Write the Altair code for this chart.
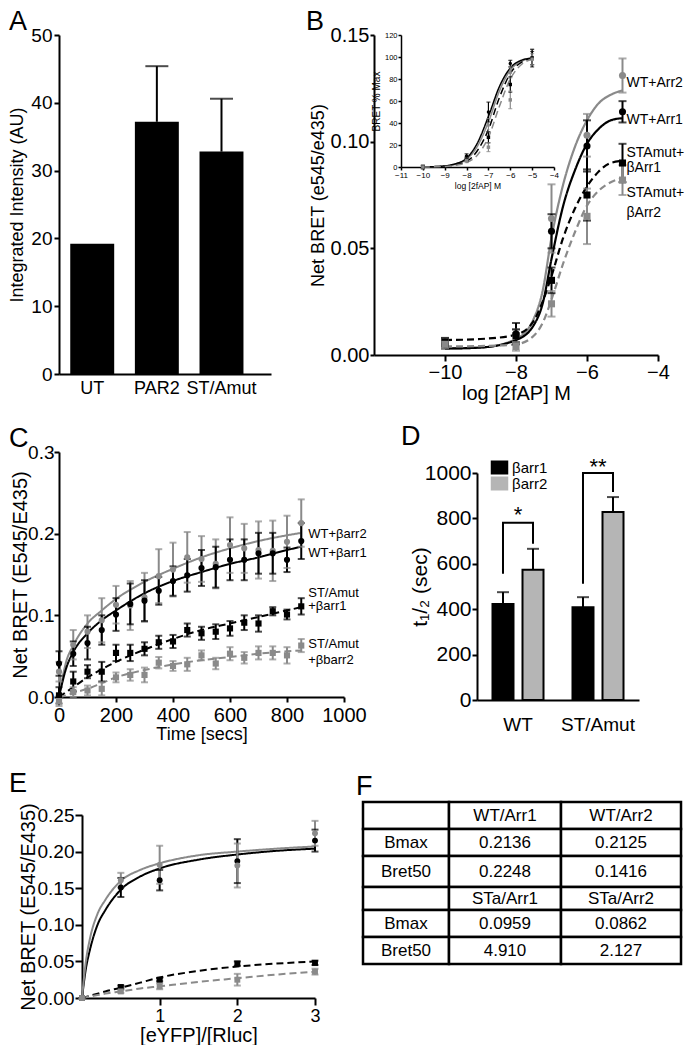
import altair as alt
import pandas as pd

FONT = "Liberation Sans"
BLK = "#000000"
GRY = "#8a8a8a"
BARG = "#b5b5b5"

# ================= DATA =================
# ---- Panel A
A_CATS = ["UT", "PAR2", "ST/Amut"]
A_VALS = [19.2, 37.2, 32.8]
A_ERR = [0.0, 8.2, 7.8]

# ---- Panel B (main)
B_NAMES = ["WT+Arr2", "WT+Arr1", "STAmut+βArr1", "STAmut+βArr2"]
B_X = [-10, -8, -7, -6, -5]
B_WT2 = [0.006, 0.009, 0.064, 0.103, 0.131]
B_WT2_ERR = [0.002, 0.003, 0.016, 0.010, 0.008]
B_WT1 = [0.005, 0.010, 0.058, 0.098, 0.114]
B_WT1_ERR = [0.002, 0.005, 0.008, 0.012, 0.005]
B_ST1 = [0.006, 0.009, 0.035, 0.075, 0.090]
B_ST1_ERR = [0.002, 0.003, 0.006, 0.012, 0.009]
B_ST2 = [0.005, 0.004, 0.024, 0.065, 0.082]
B_ST2_ERR = [0.002, 0.002, 0.006, 0.013, 0.007]
B_FX = [-10, -9, -8, -7.5, -7.25, -7, -6.67, -6.33, -6, -5.67, -5.33, -5]
B_WT2_FIT = [0.003, 0.0035, 0.0075, 0.017, 0.030, 0.055, 0.080, 0.098, 0.110, 0.118, 0.122, 0.124]
B_WT1_FIT = [0.003, 0.0035, 0.007, 0.014, 0.024, 0.045, 0.070, 0.087, 0.099, 0.106, 0.110, 0.111]
B_ST1_FIT = [0.007, 0.0075, 0.0095, 0.016, 0.025, 0.037, 0.055, 0.069, 0.079, 0.086, 0.090, 0.091]
B_ST2_FIT = [0.004, 0.0042, 0.005, 0.009, 0.015, 0.026, 0.043, 0.058, 0.070, 0.077, 0.081, 0.083]
B_LABELS = ["WT+Arr2", "WT+Arr1", "STAmut+", "βArr1", "STAmut+", "βArr2"]
B_LABEL_Y = [0.1276, 0.110, 0.0948, 0.0876, 0.0761, 0.0667]

# ---- Panel B (inset, % of max)
IN_NAMES = ["WT+Arr2", "WT+Arr1", "STAmut+βArr1", "STAmut+βArr2"]
IN_X = [-10, -8, -7, -6, -5]
IN_WT2 = [0, 8, 38, 86, 100]
IN_WT2_ERR = [1.5, 2, 6, 5, 7]
IN_WT1 = [0, 10, 50, 94, 99]
IN_WT1_ERR = [1.5, 2, 9, 3, 8]
IN_ST1 = [0, 7, 27, 75, 99]
IN_ST1_ERR = [1.5, 2, 5, 7, 6]
IN_ST2 = [0, 6, 18, 61, 98]
IN_ST2_ERR = [1.5, 2, 4, 8, 5]
IN_FX = [-10, -9, -8.5, -8, -7.5, -7, -6.5, -6, -5.5, -5]
IN_WT2_FIT = [0, 1, 2.5, 7, 19, 41, 69, 88, 96, 99]
IN_WT1_FIT = [0, 1, 3, 8, 22, 46, 73, 90, 97, 99]
IN_ST1_FIT = [0, 0.5, 2, 5, 15, 34, 63, 85, 95, 99]
IN_ST2_FIT = [0, 0.5, 1.5, 4, 11, 27, 55, 80, 93, 98]

# ---- Panel C (kinetics)
C_NAMES = ["WT+βarr2", "WT+βarr1", "ST/Amut+βarr1", "ST/Amut+βbarr2"]
C_T = [0, 50, 100, 150, 200, 250, 300, 350, 400, 450, 500, 550, 600, 650, 700, 750, 800, 850]
C_WT2 = [0.031, 0.064, 0.080, 0.094, 0.113, 0.112, 0.122, 0.148, 0.156, 0.171, 0.169, 0.163,
         0.186, 0.182, 0.180, 0.179, 0.190, 0.213]
C_WT2_ERR = [0.012, 0.018, 0.020, 0.027, 0.023, 0.030, 0.030, 0.033, 0.033, 0.031, 0.028, 0.030,
             0.034, 0.030, 0.035, 0.037, 0.032, 0.029]
C_WT1 = [0.041, 0.053, 0.066, 0.082, 0.101, 0.114, 0.118, 0.130, 0.142, 0.149, 0.158, 0.159,
         0.168, 0.168, 0.176, 0.176, 0.168, 0.191]
C_WT1_ERR = [0.015, 0.015, 0.020, 0.018, 0.020, 0.025, 0.025, 0.017, 0.018, 0.020, 0.022, 0.025,
             0.025, 0.025, 0.025, 0.025, 0.015, 0.022]
C_ST1 = [0.002, 0.019, 0.031, 0.031, 0.054, 0.054, 0.059, 0.067, 0.068, 0.082, 0.078, 0.080,
         0.084, 0.091, 0.090, 0.105, 0.101, 0.111]
C_ST1_ERR = [0.010, 0.012, 0.008, 0.012, 0.010, 0.010, 0.008, 0.008, 0.008, 0.008, 0.008, 0.009,
             0.009, 0.009, 0.010, 0.005, 0.006, 0.010]
C_ST2 = [-0.005, 0.006, 0.008, 0.010, 0.024, 0.027, 0.027, 0.042, 0.038, 0.040, 0.051, 0.041,
         0.053, 0.048, 0.054, 0.054, 0.051, 0.063]
C_ST2_ERR = [0.006, 0.006, 0.006, 0.008, 0.006, 0.007, 0.009, 0.007, 0.006, 0.008, 0.006, 0.007,
             0.008, 0.007, 0.008, 0.008, 0.010, 0.008]
C_FT = [0, 25, 50, 100, 150, 200, 300, 400, 500, 600, 700, 800, 850]
C_WT2_FIT = [0.0, 0.043, 0.063, 0.090, 0.106, 0.120, 0.141, 0.157, 0.171, 0.182, 0.191, 0.198, 0.201]
C_WT1_FIT = [0.0, 0.035, 0.055, 0.078, 0.094, 0.106, 0.127, 0.142, 0.153, 0.163, 0.171, 0.180, 0.184]
C_ST1_FIT = [0.0, 0.006, 0.012, 0.024, 0.034, 0.043, 0.058, 0.071, 0.082, 0.090, 0.098, 0.106, 0.110]
C_ST2_FIT = [0.0, 0.002, 0.005, 0.010, 0.017, 0.024, 0.033, 0.040, 0.045, 0.049, 0.053, 0.056, 0.057]
C_LABELS = ["WT+βarr2", "WT+βarr1", "ST/Amut", "+βarr1", "ST/Amut", "+βbarr2"]
C_LABEL_Y = [0.199, 0.176, 0.127, 0.111, 0.065, 0.045]

# ---- Panel D (t1/2)
D_GROUPS = ["WT", "ST/Amut"]
D_SERIES = ["βarr1", "βarr2"]
D_VALS = [[423, 574], [409, 828]]
D_ERR = [[52, 92], [44, 66]]
D_BRACKETS = [  # (group, [(series, value), ...])
    ("WT", [("βarr1", 556), ("βarr1", 781), ("βarr2", 781), ("βarr2", 688)]),
    ("ST/Amut", [("βarr1", 512), ("βarr1", 1000), ("βarr2", 1000), ("βarr2", 916)]),
]
D_STARS = ["*", "**"]
D_STAR_Y = [776, 985]

# ---- Panel E (saturation)
E_NAMES = ["WT/Arr1", "WT/Arr2", "STa/Arr1", "STa/Arr2"]
E_X = [0, 0.5, 1, 2, 3]
E_WT1 = [0.0, 0.151, 0.161, 0.187, 0.215]
E_WT1_ERR = [0.0, 0.013, 0.014, 0.030, 0.015]
E_WT2 = [0.0, 0.161, 0.182, 0.181, 0.225]
E_WT2_ERR = [0.0, 0.010, 0.026, 0.030, 0.017]
E_ST1 = [0.0, 0.015, 0.025, 0.047, 0.048]
E_ST1_ERR = [0.0, 0.002, 0.002, 0.003, 0.003]
E_ST2 = [0.0, 0.009, 0.016, 0.025, 0.036]
E_ST2_ERR = [0.0, 0.002, 0.004, 0.008, 0.004]
E_FX = [0, 0.05, 0.1, 0.2, 0.3, 0.5, 0.75, 1, 1.5, 2, 2.5, 3]
E_WT1_FIT = [0, 0.040, 0.065, 0.100, 0.120, 0.148, 0.166, 0.177, 0.189, 0.196, 0.201, 0.204]
E_WT2_FIT = [0, 0.050, 0.080, 0.115, 0.134, 0.160, 0.175, 0.184, 0.195, 0.200, 0.204, 0.207]
E_ST1_FIT = [0, 0.0015, 0.003, 0.006, 0.009, 0.014, 0.021, 0.028, 0.037, 0.043, 0.047, 0.050]
E_ST2_FIT = [0, 0.001, 0.002, 0.004, 0.006, 0.009, 0.013, 0.016, 0.022, 0.027, 0.032, 0.036]

# ---- Panel F (table)
F_TABLE = [
    ["", "WT/Arr1", "WT/Arr2"],
    ["Bmax", "0.2136", "0.2125"],
    ["Bret50", "0.2248", "0.1416"],
    ["", "STa/Arr1", "STa/Arr2"],
    ["Bmax", "0.0959", "0.0862"],
    ["Bret50", "4.910", "2.127"],
]


# ================= HELPERS =================
def pts_df(names, xs, ys_list, es_list):
    rows = []
    for n, ys, es in zip(names, ys_list, es_list):
        for x, y, e in zip(xs, ys, es):
            rows.append({"s": n, "x": x, "y": y, "lo": y - e, "hi": y + e})
    return pd.DataFrame(rows)


def fit_df(names, xs, ys_list):
    rows = []
    for n, ys in zip(names, ys_list):
        for x, y in zip(xs, ys):
            rows.append({"s": n, "x": x, "y": y})
    return pd.DataFrame(rows)


def axis_factory(chan, domain, rng=None, **axis_kw):
    def f(field):
        sk = dict(domain=domain, nice=False, zero=False)
        if rng is not None:
            sk["range"] = rng
        return chan(field, scale=alt.Scale(**sk), axis=alt.Axis(**axis_kw))
    return f


def series_layers(pts, fits, X, Y, names, colors, dashes, shapes,
                  lw=2, psize=45, cap=8, ew=2):
    col = alt.Color("s:N", scale=alt.Scale(domain=names, range=colors), legend=None)
    dash = alt.StrokeDash("s:N", scale=alt.Scale(domain=names, range=dashes), legend=None)
    shp = alt.Shape("s:N", scale=alt.Scale(domain=names, range=shapes), legend=None)
    lines = alt.Chart(fits).mark_line(strokeWidth=lw, interpolate="monotone").encode(
        x=X("x:Q"), y=Y("y:Q"), color=col, strokeDash=dash, detail="s:N")
    rules = alt.Chart(pts).mark_rule(strokeWidth=ew).encode(
        x=X("x:Q"), y=Y("lo:Q"), y2="hi:Q", color=col)
    lo = alt.Chart(pts).mark_tick(orient="horizontal", size=cap, thickness=ew).encode(
        x=X("x:Q"), y=Y("lo:Q"), color=col)
    hi = alt.Chart(pts).mark_tick(orient="horizontal", size=cap, thickness=ew).encode(
        x=X("x:Q"), y=Y("hi:Q"), color=col)
    points = alt.Chart(pts).mark_point(filled=True, size=psize, opacity=1).encode(
        x=X("x:Q"), y=Y("y:Q"), color=col, shape=shp)
    return [lines, rules, lo, hi, points]


def letter(s, x, y):
    return alt.Chart(pd.DataFrame({"t": [s]})).mark_text(
        align="left", baseline="alphabetic", fontSize=27, font=FONT, color=BLK
    ).encode(text="t:N", x=alt.value(x), y=alt.value(y))


def side_labels(xpos, labels, ys, X, Y, size, dx):
    df = pd.DataFrame({"x": [xpos] * len(labels), "y": ys, "t": labels})
    return alt.Chart(df).mark_text(align="left", baseline="middle", fontSize=size,
                                   font=FONT, color=BLK, dx=dx).encode(
        x=X("x:Q"), y=Y("y:Q"), text="t:N")


# ================= PANEL A =================
dfA = pd.DataFrame({"cat": A_CATS, "val": A_VALS, "err": A_ERR})
dfA["top"] = dfA["val"] + dfA["err"]
xA = alt.X("cat:N", sort=A_CATS, title=None,
           scale=alt.Scale(paddingInner=0.32, paddingOuter=0.3, align=0.29),
           axis=alt.Axis(labelAngle=0, ticks=False, labelPadding=5, labelFontSize=18))
yA = lambda f: alt.Y(f, scale=alt.Scale(domain=[0, 50], nice=False),
                     axis=alt.Axis(values=[0, 10, 20, 30, 40, 50], title="Integrated Intensity (AU)",
                                   labelFontSize=19, titleFontSize=18, tickSize=5,
                                   labelPadding=2, titlePadding=4))
barsA = alt.Chart(dfA).mark_bar(color=BLK).encode(x=xA, y=yA("val:Q"))
errDfA = dfA[dfA["err"] > 0]
errA = alt.Chart(errDfA).mark_rule(strokeWidth=2, color=BLK).encode(x=xA, y=yA("val:Q"), y2="top:Q")
capA = alt.Chart(errDfA).mark_tick(orient="horizontal", size=23, thickness=2, color=BLK).encode(
    x=xA, y=yA("top:Q"))
panelA = alt.layer(barsA, errA, capA, letter("A", -50, -5)).properties(width=212, height=339)

# ================= PANEL B =================
bX = axis_factory(alt.X, [-12, -4], [11, 295], values=[-10, -8, -6, -4], title="log [2fAP] M",
                  labelFontSize=20, titleFontSize=20, tickSize=6, labelPadding=1, titlePadding=1)
bY = axis_factory(alt.Y, [0, 0.15], None, values=[0, 0.05, 0.10, 0.15], format=".2f",
                  title="Net BRET (e545/e435)", offset=-11, labelFontSize=20, titleFontSize=18,
                  tickSize=4, labelPadding=1, titlePadding=3)
b_pts = pts_df(B_NAMES, B_X, [B_WT2, B_WT1, B_ST1, B_ST2], [B_WT2_ERR, B_WT1_ERR, B_ST1_ERR, B_ST2_ERR])
b_fit = fit_df(B_NAMES, B_FX, [B_WT2_FIT, B_WT1_FIT, B_ST1_FIT, B_ST2_FIT])
b_main = alt.layer(
    *series_layers(b_pts, b_fit, bX, bY, B_NAMES, [GRY, BLK, BLK, GRY],
                   [[1, 0], [1, 0], [7, 4], [7, 4]], ["circle", "circle", "square", "square"],
                   lw=2.2, psize=50, cap=8),
    side_labels(B_X[-1], B_LABELS, B_LABEL_Y, bX, bY, 14, 4),
    letter("B", -57, -5),
)
iX = axis_factory(alt.X, [-11, -4], [38, 191], orient="bottom", offset=-188,
                  values=[-11, -10, -9, -8, -7, -6, -5, -4], title="log [2fAP] M",
                  labelFontSize=8, titleFontSize=8.5, tickSize=3, tickWidth=1.5, domainWidth=1.5,
                  labelPadding=1, titlePadding=2)
iY = axis_factory(alt.Y, [0, 120], [132, 0], orient="left", offset=-38,
                  values=[0, 20, 40, 60, 80, 100, 120], title="BRET % Max",
                  labelFontSize=7.5, titleFontSize=10, tickSize=3, tickWidth=1.5, domainWidth=1.5,
                  labelPadding=1, titlePadding=3)
in_pts = pts_df(IN_NAMES, IN_X, [IN_WT2, IN_WT1, IN_ST1, IN_ST2],
                [IN_WT2_ERR, IN_WT1_ERR, IN_ST1_ERR, IN_ST2_ERR])
in_fit = fit_df(IN_NAMES, IN_FX, [IN_WT2_FIT, IN_WT1_FIT, IN_ST1_FIT, IN_ST2_FIT])
b_inset = alt.layer(
    *series_layers(in_pts, in_fit, iX, iY, IN_NAMES, [GRY, BLK, BLK, GRY],
                   [[1, 0], [1, 0], [4, 2], [4, 2]], ["circle", "circle", "square", "square"],
                   lw=1.5, psize=12, cap=4, ew=1.2)
)
panelB = alt.layer(b_main, b_inset).resolve_scale(x="independent", y="independent").properties(
    width=295, height=320)

# ================= PANEL C =================
cX = axis_factory(alt.X, [0, 1000], None, values=[0, 200, 400, 600, 800, 1000], format="d",
                  title="Time [secs]", labelFontSize=20, titleFontSize=18, tickSize=5,
                  labelPadding=3, titlePadding=0)
cY = axis_factory(alt.Y, [0, 0.3], None, values=[0, 0.1, 0.2, 0.3], format=".1f",
                  title="Net BRET  (E545/E435)", labelFontSize=19, titleFontSize=20,
                  tickSize=5, labelPadding=0, titlePadding=-3)
c_pts = pts_df(C_NAMES, C_T, [C_WT2, C_WT1, C_ST1, C_ST2], [C_WT2_ERR, C_WT1_ERR, C_ST1_ERR, C_ST2_ERR])
c_fit = fit_df(C_NAMES, C_FT, [C_WT2_FIT, C_WT1_FIT, C_ST1_FIT, C_ST2_FIT])
panelC = alt.layer(
    *series_layers(c_pts, c_fit, cX, cY, C_NAMES, [GRY, BLK, BLK, GRY],
                   [[1, 0], [1, 0], [7, 4], [7, 4]], ["circle", "circle", "square", "square"],
                   lw=2, psize=38, cap=7),
    side_labels(C_T[-1], C_LABELS, C_LABEL_Y, cX, cY, 13, 7),
    letter("C", -50, -5),
).properties(width=285, height=245)

# ================= PANEL D =================
d_rows = []
for gi, g in enumerate(D_GROUPS):
    for si, s in enumerate(D_SERIES):
        v = D_VALS[gi][si]
        d_rows.append({"g": g, "s": s, "v": v, "top": v + D_ERR[gi][si]})
dfD = pd.DataFrame(d_rows)
br_rows = []
for bi, (g, segs) in enumerate(D_BRACKETS):
    for k, (s, v) in enumerate(segs):
        br_rows.append({"g": g, "s": s, "v": v, "b": bi, "k": k})
dfBr = pd.DataFrame(br_rows)
dfStar = pd.DataFrame({"g": D_GROUPS, "t": D_STARS, "v": D_STAR_Y})

dX = alt.X("g:N", sort=D_GROUPS, title=None,
           scale=alt.Scale(domain=D_GROUPS, range=[114, 276], paddingInner=0, paddingOuter=0.0125),
           axis=alt.Axis(ticks=False, labelAngle=0, labelPadding=15, labelFontSize=19))
dXo = alt.XOffset("s:N", scale=alt.Scale(domain=D_SERIES, paddingInner=0.3, paddingOuter=0.483))
dY = lambda f: alt.Y(f, scale=alt.Scale(domain=[0, 1000], range=[248, 21], nice=False),
                     axis=alt.Axis(values=[0, 200, 400, 600, 800, 1000], format="d",
                                   title="t₁/₂ (sec)", offset=-114, labelFontSize=21,
                                   titleFontSize=21, tickSize=5, labelPadding=1, titlePadding=-6))
dCol = alt.Color("s:N", scale=alt.Scale(domain=D_SERIES, range=[BLK, BARG]),
                 legend=alt.Legend(orient="none", legendX=129, legendY=8, title=None,
                                   symbolType="M-1.25,-1H1.25V1H-1.25Z", symbolSize=196,
                                   symbolStrokeWidth=0, labelFontSize=15, rowPadding=0,
                                   labelOffset=5))
barsD = alt.Chart(dfD).mark_bar(stroke=BLK, strokeWidth=2).encode(x=dX, xOffset=dXo, y=dY("v:Q"), color=dCol)
errD = alt.Chart(dfD).mark_rule(strokeWidth=2, color=BLK).encode(x=dX, xOffset=dXo, y=dY("v:Q"), y2="top:Q")
capD = alt.Chart(dfD).mark_tick(orient="horizontal", size=12, thickness=2, color=BLK).encode(
    x=dX, xOffset=dXo, y=dY("top:Q"))
brD = alt.Chart(dfBr).mark_line(strokeWidth=2, color=BLK).encode(
    x=dX, xOffset=dXo, y=dY("v:Q"), detail="b:N", order="k:Q")
starD = alt.Chart(dfStar).mark_text(fontSize=22, font=FONT, color=BLK, baseline="alphabetic", dy=-2).encode(
    x=dX, y=dY("v:Q"), text="t:N")
panelD = alt.layer(barsD, errD, capD, brD, starD, letter("D", 38, -7)).properties(width=276, height=248)

# ================= PANEL E =================
eX = axis_factory(alt.X, [0, 3], [23, 256], values=[1, 2, 3], title="[eYFP]/[Rluc]",
                  labelFontSize=18, titleFontSize=20, tickSize=7, labelPadding=2, titlePadding=0)
eY = axis_factory(alt.Y, [0, 0.25], [220, 37], values=[0, 0.05, 0.10, 0.15, 0.20, 0.25], format=".2f",
                  title="Net BRET  (E545/E435)", offset=-23, labelFontSize=19, titleFontSize=20,
                  tickSize=7, labelPadding=1, titlePadding=-1)
e_pts = pts_df(E_NAMES, E_X, [E_WT1, E_WT2, E_ST1, E_ST2], [E_WT1_ERR, E_WT2_ERR, E_ST1_ERR, E_ST2_ERR])
e_fit = fit_df(E_NAMES, E_FX, [E_WT1_FIT, E_WT2_FIT, E_ST1_FIT, E_ST2_FIT])
panelE = alt.layer(
    *series_layers(e_pts, e_fit, eX, eY, E_NAMES, [BLK, GRY, BLK, GRY],
                   [[1, 0], [1, 0], [7, 4], [7, 4]], ["circle", "circle", "square", "square"],
                   lw=2, psize=35, cap=7),
    letter("E", -50, 14),
).properties(width=256, height=220)

# ================= PANEL F =================
f_rows = []
for r, row in enumerate(F_TABLE):
    for c, txt in enumerate(row):
        f_rows.append({"c0": c, "c1": c + 1, "cm": c + 0.5, "r0": r, "r1": r + 1, "rm": r + 0.5, "t": txt})
dfF = pd.DataFrame(f_rows)
fxs = alt.Scale(domain=[0, 1, 2, 3], range=[0, 86, 198, 318], nice=False, zero=False)
fys = alt.Scale(domain=[0, 1, 2, 3, 4, 5, 6], range=[24, 51, 78, 109, 132, 159, 186], nice=False, zero=False)
cellsF = alt.Chart(dfF).mark_rect(fill="white", stroke=BLK, strokeWidth=2.5).encode(
    x=alt.X("c0:Q", scale=fxs, axis=None), x2="c1:Q",
    y=alt.Y("r0:Q", scale=fys, axis=None), y2="r1:Q")
textF = alt.Chart(dfF).mark_text(fontSize=17, font=FONT, color=BLK, baseline="middle").encode(
    x=alt.X("cm:Q", scale=fxs, axis=None), y=alt.Y("rm:Q", scale=fys, axis=None), text="t:N")
panelF = alt.layer(cellsF, textF, letter("F", -7, 17)).properties(width=318, height=186)

# ================= ASSEMBLY =================
chart = alt.concat(
    panelA, panelB, panelC, panelD, panelE, panelF,
    columns=2, spacing={"row": 78, "column": 19}, bounds="flush",
).resolve_scale(
    color="independent", shape="independent", strokeDash="independent"
).properties(padding=0).configure(font=FONT).configure_axis(
    domainColor=BLK, domainWidth=2, tickColor=BLK, tickWidth=2, labelColor=BLK, titleColor=BLK,
    labelFont=FONT, titleFont=FONT, titleFontWeight="normal", grid=False,
    labelFlush=False, labelOverlap=False,
).configure_view(stroke=None).configure_legend(labelFont=FONT, labelColor=BLK)

chart.save("out.html", embed_options={"renderer": "svg", "actions": False})
